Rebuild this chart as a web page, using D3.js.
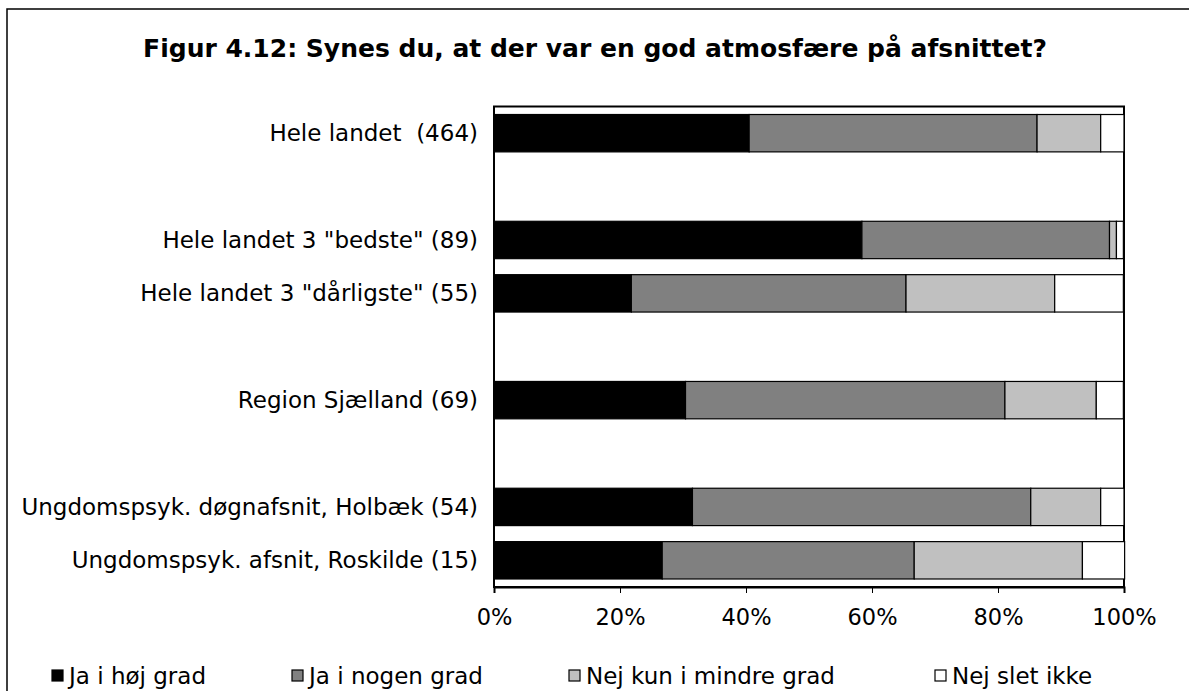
<!DOCTYPE html>
<html>
<head>
<meta charset="utf-8">
<script src="https://cdn.jsdelivr.net/npm/d3@7"></script>
<style>
  body { margin: 0; background: #fff; overflow: hidden; }
  text { font-family: "DejaVu Sans", Verdana, sans-serif; fill: #000; }
</style>
</head>
<body>
<div id="chart"></div>
<script>
// rows of the chart, blank strings are the empty spacer rows
var categories = [
  "Hele landet  (464)",
  "",
  "Hele landet 3 \"bedste\" (89)",
  "Hele landet 3 \"dårligste\" (55)",
  "",
  "Region Sjælland (69)",
  "",
  "Ungdomspsyk. døgnafsnit, Holbæk (54)",
  "Ungdomspsyk. afsnit, Roskilde (15)"
];

// percentages per answer
var jaHoj     = [40.5, null, 58.4, 21.8, null, 30.4, null, 31.5, 26.7];
var jaNogen   = [45.7, null, 39.3, 43.6, null, 50.7, null, 53.7, 40.0];
var nejMindre = [10.1, null,  1.1, 23.6, null, 14.5, null, 11.1, 26.7];
var nejSlet   = [ 3.7, null,  1.1, 10.9, null,  4.3, null,  3.7,  6.7];

var seriesNames = ["Ja i høj grad", "Ja i nogen grad", "Nej kun i mindre grad", "Nej slet ikke"];
var seriesColors = ["#000000", "#808080", "#c0c0c0", "#ffffff"];
var tickValues = [0, 20, 40, 60, 80, 100];

var svgWidth = 1189;
var svgHeight = 691;

var margin = { top: 106.5, right: 65, bottom: 104, left: 494 };
var width = svgWidth - margin.left - margin.right;
var height = svgHeight - margin.top - margin.bottom;

var svg = d3.select("#chart")
  .append("svg")
  .style("display", "block")
  .attr("width", svgWidth)
  .attr("height", svgHeight);

// outer chart frame, only top and left edges are visible
svg.append("path")
  .attr("d", `M7,${svgHeight}V9H${svgWidth}`)
  .attr("fill", "none")
  .attr("stroke", "#000")
  .attr("stroke-width", 1.5);

// title
svg.append("text")
  .attr("x", 595)
  .attr("y", 57)
  .attr("text-anchor", "middle")
  .style("font-size", "25px")
  .style("font-weight", "bold")
  .text("Figur 4.12: Synes du, at der var en god atmosfære på afsnittet?");

var chartGroup = svg.append("g")
  .attr("transform", `translate(${margin.left}, ${margin.top})`);

var xScale = d3.scaleLinear()
  .domain([0, 100])
  .range([0, width]);

var yScale = d3.scaleBand()
  .domain(d3.range(categories.length))
  .range([0, height])
  .paddingInner(0.3)
  .paddingOuter(0.15);

// stack the four series
var rows = categories.map(function(c, i) {
  return { cat: c, i: i, s0: jaHoj[i], s1: jaNogen[i], s2: nejMindre[i], s3: nejSlet[i] };
}).filter(d => d.s0 !== null);

var stack = d3.stack().keys(["s0", "s1", "s2", "s3"]);
var layers = stack(rows);

// plot area border
chartGroup.append("rect")
  .attr("x", 0)
  .attr("y", 0)
  .attr("width", width)
  .attr("height", height)
  .attr("fill", "#fff")
  .attr("stroke", "#000")
  .attr("stroke-width", 2);

layers.forEach(function(layer, k) {
  chartGroup.append("g")
    .selectAll("rect")
    .data(layer)
    .enter()
    .append("rect")
    .attr("x", d => xScale(d[0]))
    .attr("width", d => xScale(d[1]) - xScale(d[0]))
    .attr("y", d => yScale(d.data.i))
    .attr("height", yScale.bandwidth())
    .attr("fill", seriesColors[k])
    .attr("stroke", "#000")
    .attr("stroke-width", 1.2);
});

// x axis
var bottomAxis = d3.axisBottom(xScale)
  .tickValues(tickValues)
  .tickSize(6)
  .tickFormat(d => d + "%");

var xAxis = chartGroup.append("g")
  .attr("transform", `translate(0, ${height})`)
  .call(bottomAxis);

xAxis.select(".domain").attr("stroke-width", 2);
xAxis.selectAll(".tick line").attr("stroke-width", 1);
xAxis.selectAll(".tick text")
  .attr("y", 38)
  .attr("dy", null)
  .style("font-size", "22.5px")
  .style("font-family", "DejaVu Sans, Verdana, sans-serif");

// category labels
chartGroup.selectAll("text.catLabel")
  .data(rows)
  .enter()
  .append("text")
  .attr("class", "catLabel")
  .attr("xml:space", "preserve")
  .style("white-space", "pre")
  .attr("x", -16)
  .attr("y", d => yScale(d.i) + yScale.bandwidth() / 2)
  .attr("dy", "0.35em")
  .attr("text-anchor", "end")
  .style("font-size", "23px")
  .text(d => d.cat);

// legend
var legendX = [52, 292, 569, 935];
var legend = svg.append("g");
seriesNames.forEach(function(name, k) {
  var g = legend.append("g")
    .attr("transform", `translate(${legendX[k]}, 676)`);
  g.append("rect")
    .attr("x", 0)
    .attr("y", -6)
    .attr("width", 11)
    .attr("height", 11)
    .attr("fill", seriesColors[k])
    .attr("stroke", "#000")
    .attr("stroke-width", 1.2);
  g.append("text")
    .attr("x", 17)
    .attr("y", 0)
    .attr("dy", "0.35em")
    .style("font-size", "23px")
    .text(name);
});
</script>
</body>
</html>
